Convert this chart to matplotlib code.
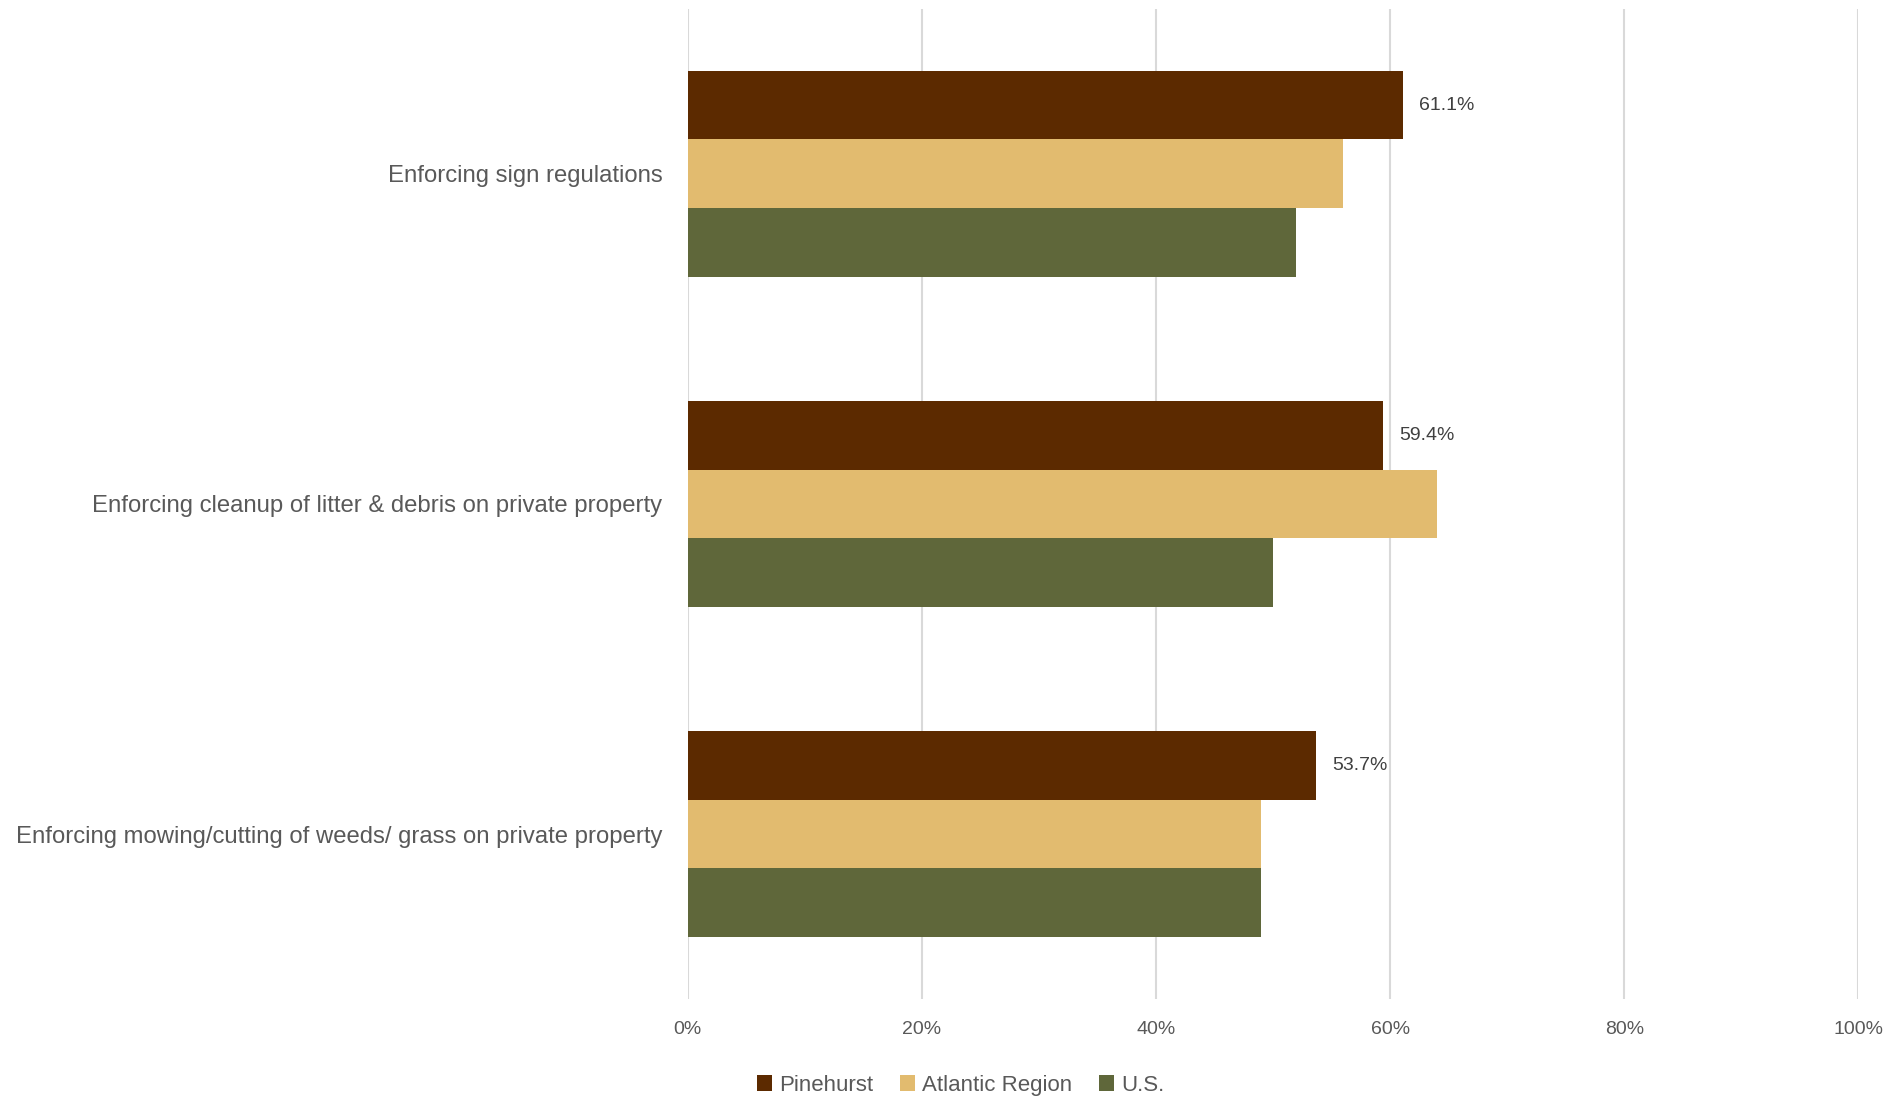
import numpy as np
import matplotlib
matplotlib.use('Agg')
import matplotlib.pyplot as plt

plt.rcParams['font.family'] = ['Liberation Sans', 'DejaVu Sans']

categories = ['Enforcing sign regulations',
              'Enforcing cleanup of litter & debris on private property',
              'Enforcing mowing/cutting of weeds/ grass on private property']
series = ['Pinehurst', 'Atlantic Region', 'U.S.']
pinehurst = [61.1, 59.4, 53.7]
atlantic = [56.0, 64.0, 49.0]
us = [52.0, 50.0, 49.0]
colors = ['#5C2A00', '#E2BB6F', '#5F673A']
ticks = [0, 20, 40, 60, 80, 100]

text_color = '#595959'
fig = plt.figure(figsize=(18.91, 11.01), dpi=100)
ax = fig.add_axes([0.3636, 0.0925, 0.6192, 0.8995])

y = np.arange(len(categories))
bar_h = 1 / 4.8
for i, (vals, name) in enumerate(zip([pinehurst, atlantic, us], series)):
    ax.barh(y + (i - 1) * bar_h, vals, height=bar_h, color=colors[i], label=name, zorder=3)

# value labels on the Pinehurst bars only
for yi, v in zip(y, pinehurst):
    ax.text(v + 1.35, yi - bar_h, f'{v:.1f}%', va='center', ha='left',
            fontsize=14, color='#404040')

ax.set_xlim(0, 100)
ax.set_ylim(2.5, -0.5)
ax.set_xticks(ticks)
ax.set_xticklabels([f'{t}%' for t in ticks], fontsize=14, color=text_color)
ax.set_yticks(y)
ax.set_yticklabels(categories, fontsize=17.2, color=text_color)
ax.tick_params(axis='both', length=0)
ax.tick_params(axis='x', pad=16)
ax.tick_params(axis='y', pad=18)
ax.xaxis.grid(True, color='#D9D9D9', linewidth=1.5, zorder=0)
for s in ax.spines.values():
    s.set_visible(False)

fig.legend(loc='center', bbox_to_anchor=(0.508, 0.0145), ncol=3, frameon=False,
           fontsize=16, handlelength=0.7, handleheight=0.7, handletextpad=0.3,
           columnspacing=1.2, labelcolor=text_color)

fig.savefig('out.png', dpi=100)
